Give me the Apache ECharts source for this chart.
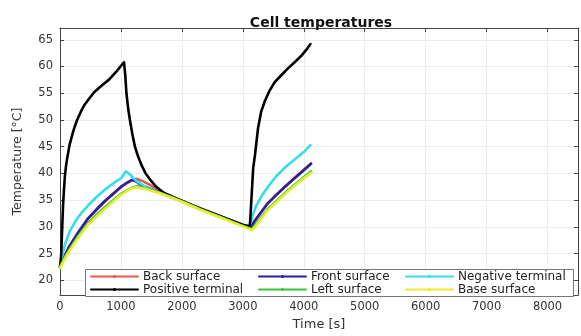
<!DOCTYPE html>
<html>
<head>
<meta charset="utf-8">
<script src="https://cdn.jsdelivr.net/npm/echarts@6/dist/echarts.min.js"></script>
<style>html,body{margin:0;padding:0;background:#fff;}#c{width:581px;height:336px;}</style>
</head>
<body>
<div id="c"></div>
<script>
// ---- data ----
const seriesNames = ['Back surface', 'Front surface', 'Negative terminal', 'Positive terminal', 'Left surface', 'Base surface'];

const backTime = [0, 60, 140, 300, 460, 600, 740, 880, 1010, 1100, 1180, 1250, 1350, 1450, 1600, 1750, 2000, 2500, 3000, 3120, 3200, 3400, 3550, 3700, 3850, 4000, 4120];
const backTemp = [22.5, 24.1, 26.0, 28.9, 31.5, 33.2, 34.8, 36.2, 37.5, 38.2, 38.7, 39.0, 38.6, 38.0, 37.1, 36.1, 34.9, 32.5, 30.3, 29.8, 31.2, 34.3, 36.0, 37.6, 39.2, 40.7, 41.9];

const frontTime = [0, 60, 140, 300, 460, 600, 740, 880, 1010, 1100, 1180, 1250, 1320, 1400, 1600, 1800, 2000, 2500, 3000, 3120, 3200, 3400, 3550, 3700, 3850, 4000, 4120];
const frontTemp = [22.5, 24.2, 26.1, 29.0, 31.6, 33.3, 34.9, 36.3, 37.6, 38.3, 38.8, 38.5, 37.9, 37.5, 36.6, 35.7, 34.8, 32.5, 30.3, 29.8, 31.2, 34.3, 36.0, 37.6, 39.1, 40.6, 41.8];

const negTime = [0, 40, 80, 160, 250, 350, 460, 600, 740, 880, 1010, 1080, 1150, 1250, 1400, 1600, 1800, 2000, 2500, 3000, 3100, 3130, 3150, 3220, 3320, 3420, 3550, 3690, 3850, 4000, 4110];
const negTemp = [22.5, 24.8, 26.7, 29.2, 31.0, 32.6, 34.0, 35.6, 37.0, 38.2, 39.2, 40.4, 39.8, 38.6, 37.5, 36.5, 35.7, 34.8, 32.4, 30.3, 30.0, 30.8, 31.8, 34.0, 36.0, 37.6, 39.5, 41.1, 42.6, 44.0, 45.3];

const posTime = [0, 10, 20, 30, 40, 50, 60, 80, 100, 120, 160, 220, 280, 340, 400, 480, 560, 680, 800, 920, 1050, 1070, 1090, 1120, 1150, 1190, 1230, 1280, 1340, 1400, 1475, 1580, 1700, 1850, 2000, 2240, 2500, 2750, 3000, 3110, 3120, 3130, 3150, 3170, 3200, 3250, 3300, 3360, 3440, 3525, 3650, 3745, 3850, 3960, 4040, 4110];
const posTemp = [22.5, 23.5, 25, 28, 31, 34, 36, 39.5, 41.5, 43, 45.5, 48, 50, 51.5, 52.8, 54, 55.2, 56.4, 57.5, 59, 60.8, 58.5, 55, 52, 49.8, 47.2, 45, 43.2, 41.5, 40.1, 38.9, 37.5, 36.4, 35.6, 34.9, 33.7, 32.6, 31.5, 30.4, 30.1, 31, 33, 37, 41, 43.5, 48.5, 51.5, 53.5, 55.5, 57.1, 58.6, 59.7, 60.8, 62.0, 63.1, 64.2];

const leftTime = [0, 100, 280, 460, 630, 800, 1000, 1175, 1260, 1400, 1640, 2000, 2300, 2600, 3000, 3150, 3200, 3400, 3550, 3700, 3850, 4000, 4120];
const leftTemp = [22.5, 24.8, 28.0, 30.7, 32.6, 34.3, 36.2, 37.3, 37.6, 37.2, 36.4, 34.8, 33.3, 32.0, 30.2, 29.6, 30.3, 33.2, 34.8, 36.4, 37.9, 39.3, 40.4];

const baseTime = [0, 100, 280, 460, 630, 800, 1000, 1175, 1260, 1400, 1640, 2000, 2300, 2600, 3000, 3150, 3200, 3400, 3550, 3700, 3850, 4000, 4120];
const baseTemp = [22.3, 24.5, 27.7, 30.4, 32.3, 34.0, 36.0, 37.2, 37.4, 37.1, 36.3, 34.7, 33.2, 31.9, 30.1, 29.4, 30.0, 33.0, 34.6, 36.2, 37.7, 39.1, 40.1];

const xTicks = [0, 1000, 2000, 3000, 4000, 5000, 6000, 7000, 8000];
const yTicks = [20, 25, 30, 35, 40, 45, 50, 55, 60, 65];

// ---- chart ----
const colors = ['#e35b4f', '#2b1f9f', '#35dcec', '#000000', '#3dc43d', '#e6ee2e'];
const times = [backTime, frontTime, negTime, posTime, leftTime, baseTime];
const temps = [backTemp, frontTemp, negTemp, posTemp, leftTemp, baseTemp];
const pair = (t, v) => t.map((x, i) => [x, v[i]]);

const FONT = 'DejaVu Sans';
const axisCol = '#444';
const chart = echarts.init(document.getElementById('c'), null, {renderer: 'canvas'});

const legendCommon = {
  orient: 'vertical', top: 270, itemWidth: 47, itemHeight: 4, itemGap: 0,
  textStyle: {fontFamily: FONT, fontSize: 12, color: '#222', lineHeight: 13}, z: 20,
  selectedMode: false, padding: 0
};

chart.setOption({
  animation: false,
  backgroundColor: '#fff',
  color: colors,
  title: {
    text: 'Cell temperatures', left: 316, top: 11, textAlign: 'center',
    textStyle: {fontFamily: FONT, fontSize: 14, fontWeight: 'bold', color: '#111'}
  },
  grid: {left: 60, right: 3, top: 28, bottom: 34},
  xAxis: [{
    type: 'value', min: 0, max: 8500,
    name: 'Time [s]', nameLocation: 'middle', nameGap: 19,
    nameTextStyle: {fontFamily: FONT, fontSize: 13, color: '#333'},
    axisLine: {show: true, onZero: false, lineStyle: {color: axisCol}},
    axisTick: {show: true, inside: true, length: 4, customValues: xTicks, lineStyle: {color: axisCol}},
    axisLabel: {customValues: xTicks, margin: 6, fontFamily: FONT, fontSize: 11.5, color: '#333', formatter: v => String(v)},
    splitLine: {show: true, lineStyle: {color: '#ececec', width: 1}}
  }, {
    type: 'value', min: 0, max: 8500, position: 'top',
    axisLine: {show: true, onZero: false, lineStyle: {color: axisCol}},
    axisTick: {show: true, inside: true, length: 4, customValues: xTicks, lineStyle: {color: axisCol}},
    axisLabel: {show: false}, splitLine: {show: false}
  }],
  yAxis: [{
    type: 'value', min: 17.25, max: 67.2,
    name: 'Temperature [°C]', nameLocation: 'middle', nameGap: 36,
    nameTextStyle: {fontFamily: FONT, fontSize: 12.5, color: '#333'},
    axisLine: {show: true, onZero: false, lineStyle: {color: axisCol}},
    axisTick: {show: true, inside: true, length: 4, customValues: yTicks, lineStyle: {color: axisCol}},
    axisLabel: {customValues: yTicks, margin: 7, fontFamily: FONT, fontSize: 11.5, color: '#333', formatter: v => String(v)},
    splitLine: {show: true, lineStyle: {color: '#ececec', width: 1}}
  }, {
    type: 'value', min: 17.25, max: 67.2, position: 'right',
    axisLine: {show: true, onZero: false, lineStyle: {color: axisCol}},
    axisTick: {show: true, inside: true, length: 4, customValues: yTicks, lineStyle: {color: axisCol}},
    axisLabel: {show: false}, splitLine: {show: false}
  }],
  legend: [
    Object.assign({}, legendCommon, {left: 90, data: [seriesNames[0], seriesNames[3]]}),
    Object.assign({}, legendCommon, {left: 258, data: [seriesNames[1], seriesNames[4]]}),
    Object.assign({}, legendCommon, {left: 405, data: [seriesNames[2], seriesNames[5]]})
  ],
  graphic: [{
    type: 'rect', z: 15, silent: true,
    shape: {x: 85.5, y: 269.5, width: 488, height: 27},
    style: {fill: '#fff', stroke: '#777', lineWidth: 1}
  }],
  series: seriesNames.map((name, i) => ({
    name: name, type: 'line', data: pair(times[i], temps[i]),
    symbol: 'circle', symbolSize: 4, showSymbol: false,
    lineStyle: {width: 2.6, color: colors[i], join: 'round', cap: 'round'}, itemStyle: {color: colors[i]},
    smooth: false, z: 2 + i
  }))
});
</script>
</body>
</html>
